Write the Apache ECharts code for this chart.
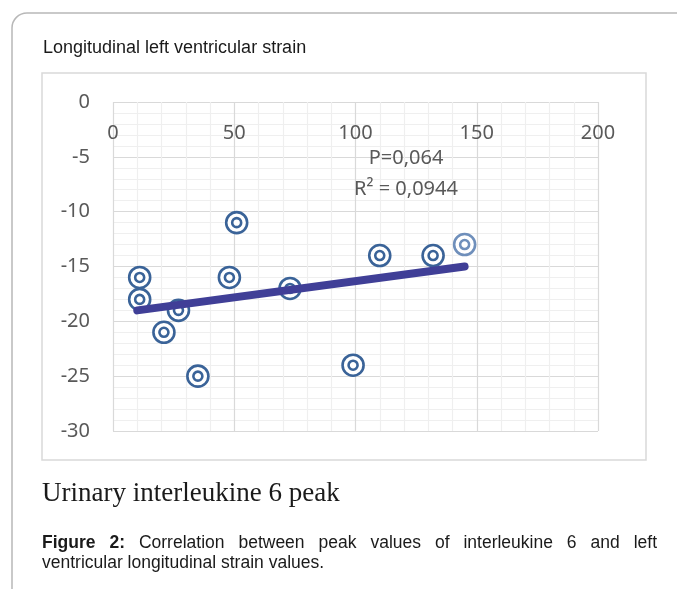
<!DOCTYPE html>
<html>
<head>
<meta charset="utf-8">
<script src="https://cdn.jsdelivr.net/npm/echarts@6/dist/echarts.min.js"></script>
<style>
  html, body { margin: 0; padding: 0; background: #fff; }
  #chart { width: 677px; height: 589px; }
</style>
</head>
<body>
<div id="chart"></div>
<script>
// peak urinary IL-6 vs longitudinal LV strain
const il6Peak = [11, 11, 27, 21, 35, 48, 51, 73, 99, 110, 132, 145];
const lvStrain = [-16, -18, -19, -21, -25, -16, -11, -17, -24, -14, -14, -13];
const lightPoint = 11; // last marker is drawn lighter in the original
const trendX = [10, 145];
const trendY = [-19, -15];
const xTicks = [0, 50, 100, 150, 200];
const yTicks = [0, -5, -10, -15, -20, -25, -30];
const statLines = ['P=0,064', 'R² = 0,0944'];

const chart = echarts.init(document.getElementById('chart'), null, { renderer: 'canvas' });

const tickFont = 'Noto Sans';
const tickColor = '#595959';
const ringColor = '#3a6398';
const ringLight = '#6f8fbb';

const points = il6Peak.map((x, i) => ({
  value: [x, lvStrain[i]],
  itemStyle: i === lightPoint ? { borderColor: ringLight } : undefined,
}));

// justify the first caption line like the source
const ctx = document.createElement('canvas').getContext('2d');
const capFont = (bold) => (bold ? 'bold ' : '') + '17.5px "Liberation Sans"';
const capWords = [
  ['Figure', true], ['2:', true], ['Correlation', false], ['between', false], ['peak', false],
  ['values', false], ['of', false], ['interleukine', false], ['6', false], ['and', false], ['left', false],
];
const capLeft = 42, capRight = 657;
const widths = capWords.map(([t, b]) => { ctx.font = capFont(b); return ctx.measureText(t).width; });
const gap = (capRight - capLeft - widths.reduce((a, b) => a + b, 0)) / (capWords.length - 1);
let cx = capLeft;
const capElems = capWords.map(([t, b], i) => {
  const el = {
    type: 'text', x: cx, y: 543,
    style: { text: t, font: capFont(b), fill: '#1a1a1a', verticalAlign: 'middle' },
  };
  cx += widths[i] + gap;
  return el;
});

chart.setOption({
  animation: false,
  grid: { left: 113, top: 102, right: 79, bottom: 158 },
  xAxis: {
    type: 'value',
    position: 'top',
    min: xTicks[0],
    max: xTicks[xTicks.length - 1],
    interval: xTicks[1] - xTicks[0],
    axisLine: { show: false },
    axisTick: { show: false },
    axisLabel: { inside: true, margin: 21, fontFamily: tickFont, fontSize: 20, color: tickColor },
    splitLine: { lineStyle: { color: '#d9d9d9', width: 1.2 } },
    minorTick: { show: false, splitNumber: 5 },
    minorSplitLine: { show: true, lineStyle: { color: '#efefef', width: 1.2 } },
  },
  yAxis: {
    type: 'value',
    min: yTicks[yTicks.length - 1],
    max: yTicks[0],
    interval: 5,
    axisLine: { show: false },
    axisTick: { show: false },
    axisLabel: { margin: 23, fontFamily: tickFont, fontSize: 20, color: tickColor },
    splitLine: { lineStyle: { color: '#d9d9d9', width: 1.2 } },
    minorTick: { show: false, splitNumber: 5 },
    minorSplitLine: { show: true, lineStyle: { color: '#efefef', width: 1.2 } },
  },
  series: [
    {
      type: 'scatter',
      data: points,
      symbol: 'circle',
      symbolSize: 21,
      itemStyle: { color: '#fff', borderColor: ringColor, borderWidth: 2.6, opacity: 1 },
      z: 2,
    },
    {
      type: 'scatter',
      data: points,
      symbol: 'circle',
      symbolSize: 9,
      itemStyle: { color: 'rgba(0,0,0,0)', borderColor: ringColor, borderWidth: 2.6, opacity: 1 },
      z: 3,
    },
    {
      type: 'line',
      data: trendX.map((x, i) => [x, trendY[i]]),
      symbol: 'none',
      lineStyle: { color: '#403f97', width: 8, cap: 'round' },
      z: 5,
    },
  ],
  graphic: [
    {
      type: 'rect', silent: true,
      shape: { x: 12, y: 13, width: 720, height: 620, r: 15 },
      style: { fill: 'none', stroke: '#b8b8b8', lineWidth: 1.5 },
    },
    {
      type: 'rect', silent: true,
      shape: { x: 42, y: 73, width: 604, height: 387 },
      style: { fill: 'none', stroke: '#d9d9d9', lineWidth: 1.5 },
    },
    {
      type: 'text', x: 43, y: 48,
      style: { text: 'Longitudinal left ventricular strain', font: '18px "Liberation Sans"', fill: '#1a1a1a', verticalAlign: 'middle' },
    },
    {
      type: 'text', x: 406, y: 158, z: 10,
      style: { text: statLines[0], font: '20px "Noto Sans"', fill: tickColor, align: 'center', verticalAlign: 'middle' },
    },
    {
      type: 'text', x: 406, y: 189, z: 10,
      style: { text: statLines[1], font: '20px "Noto Sans"', fill: tickColor, align: 'center', verticalAlign: 'middle' },
    },
    {
      type: 'text', x: 42, y: 494,
      style: { text: 'Urinary interleukine 6 peak', font: '27px "Liberation Serif"', fill: '#1a1a1a', verticalAlign: 'middle' },
    },
    ...capElems,
    {
      type: 'text', x: 42, y: 563,
      style: { text: 'ventricular longitudinal strain values.', font: capFont(false), fill: '#1a1a1a', verticalAlign: 'middle' },
    },
  ],
});
</script>
</body>
</html>
